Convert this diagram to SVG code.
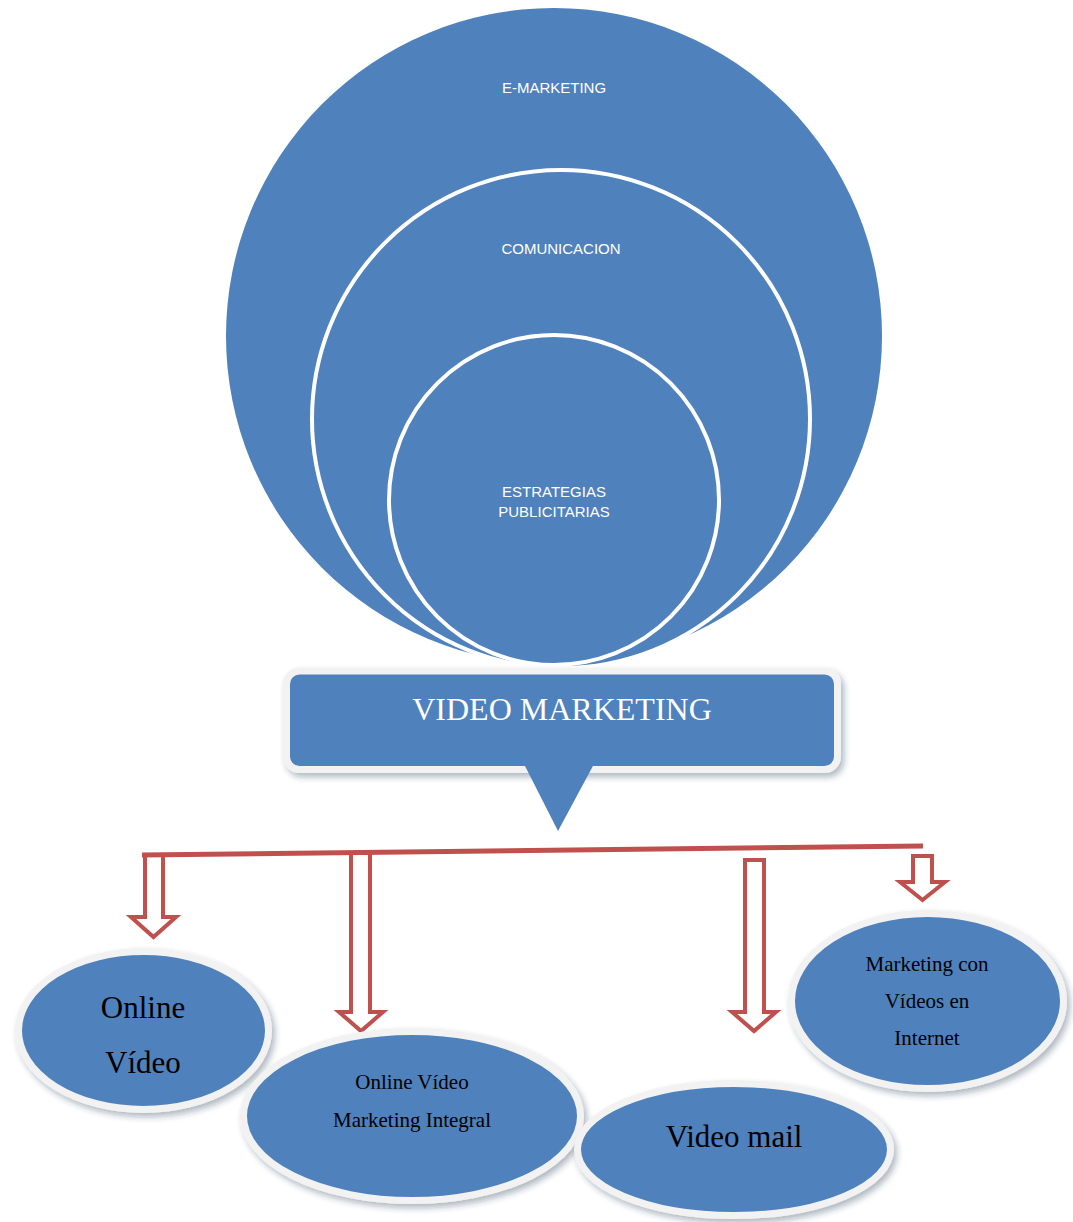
<svg xmlns="http://www.w3.org/2000/svg" width="1073" height="1222" viewBox="0 0 1073 1222">
<defs>
<filter id="sh" x="-10%" y="-10%" width="125%" height="130%">
<feDropShadow dx="3" dy="4" stdDeviation="3" flood-color="#1f3550" flood-opacity="0.35"/>
</filter>
<style>
.blue{fill:#4f81bd}
.ring{fill:#4f81bd;stroke:#ffffff;stroke-width:4}
.lbl{font-family:"Liberation Sans",Arial,sans-serif;font-size:15px;fill:#ffffff;text-anchor:middle}
.node{fill:#4f81bd;stroke:#f2f2f2;stroke-width:7}
.nt{font-family:"Liberation Serif","Times New Roman",serif;fill:#000000;text-anchor:middle}
.arr{fill:#ffffff;stroke:#c0504d;stroke-width:4;stroke-linejoin:miter}
.ln{fill:none;stroke:#c0504d;stroke-width:5}
</style>
</defs>
<rect width="1073" height="1222" fill="#ffffff"/>

<g id="e-marketing">
<circle class="blue" cx="554" cy="336" r="328"/>
<text class="lbl" x="554" y="93">E-MARKETING</text>
</g>
<g id="comunicacion">
<circle class="ring" cx="561" cy="419" r="249"/>
<text class="lbl" x="561" y="254">COMUNICACION</text>
</g>
<g id="estrategias">
<circle class="ring" cx="554" cy="500" r="165"/>
<text class="lbl" x="554" y="497">ESTRATEGIAS</text>
<text class="lbl" x="554" y="517">PUBLICITARIAS</text>
</g>

<g id="video-marketing">
<rect x="286.5" y="671" width="551" height="98.5" rx="13" fill="#4f81bd" stroke="#f2f2f2" stroke-width="7" filter="url(#sh)"/>
<polygon class="blue" points="524,764 594,764 558,831"/>
<text x="562" y="720" font-family="Liberation Serif,'Times New Roman',serif" font-size="32" fill="#ffffff" text-anchor="middle">VIDEO MARKETING</text>
</g>

<g id="connectors">
<polygon class="arr" points="145,855 163,855 163,917 176,917 153.5,937 131,917 145,917"/>
<polygon class="arr" points="351,853 370,853 370,1012 383,1012 361,1031 339,1012 351,1012"/>
<polygon class="arr" points="745,860 764,860 764,1012 776,1012 754,1031 732,1012 745,1012"/>
<polygon class="arr" points="913,856 932,856 932,882 945,882 922.5,900 900,882 913,882"/>
<line class="ln" x1="142" y1="855" x2="923" y2="846"/>
</g>

<g id="online-video">
<ellipse class="node" cx="143.5" cy="1030.5" rx="125" ry="79" filter="url(#sh)"/>
<text class="nt" x="143" y="1018" font-size="31">Online</text>
<text class="nt" x="143" y="1073" font-size="31">Vídeo</text>
</g>
<g id="online-video-marketing-integral">
<ellipse class="node" cx="412" cy="1116" rx="168.5" ry="84.5" filter="url(#sh)"/>
<text class="nt" x="412" y="1089" font-size="21">Online Vídeo</text>
<text class="nt" x="412" y="1127" font-size="21">Marketing Integral</text>
</g>
<g id="video-mail">
<ellipse class="node" cx="734" cy="1149.5" rx="156.5" ry="66" filter="url(#sh)"/>
<text class="nt" x="734" y="1147" font-size="31">Video mail</text>
</g>
<g id="marketing-con-videos">
<ellipse class="node" cx="927.5" cy="1001" rx="136" ry="87.5" filter="url(#sh)"/>
<text class="nt" x="927" y="971" font-size="21">Marketing con</text>
<text class="nt" x="927" y="1008" font-size="21">Vídeos en</text>
<text class="nt" x="927" y="1045" font-size="21">Internet</text>
</g>
</svg>
